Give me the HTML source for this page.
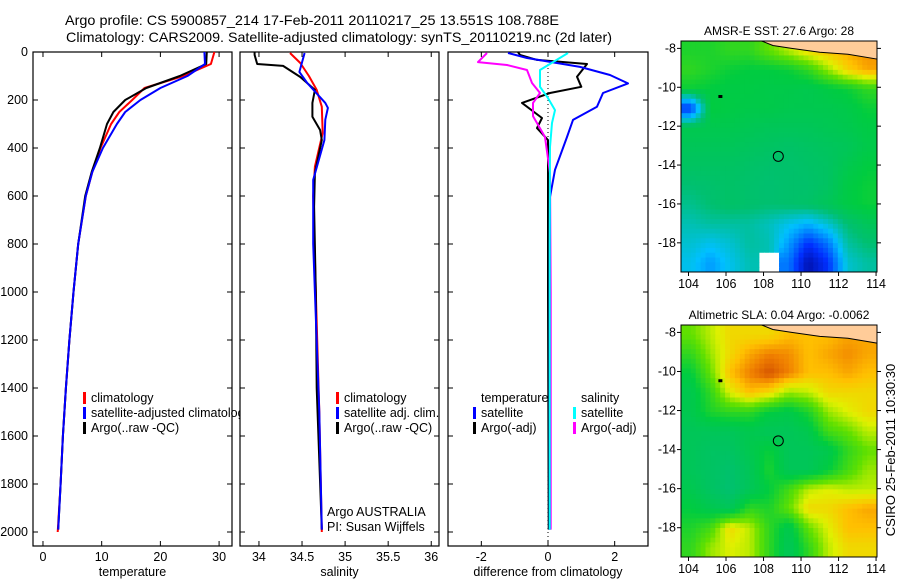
<!DOCTYPE html>
<html><head><meta charset="utf-8">
<style>
html,body{margin:0;padding:0;background:#fff;}
svg{display:block;font-family:"Liberation Sans",sans-serif;}
</style></head>
<body>
<svg id="fig" width="900" height="580" viewBox="0 0 900 580" xmlns="http://www.w3.org/2000/svg">
<text x="312" y="25" font-size="14" text-anchor="middle" textLength="494" lengthAdjust="spacingAndGlyphs">Argo profile: CS 5900857_214 17-Feb-2011 20110217_25 13.551S 108.788E</text>
<text x="339" y="42" font-size="14" text-anchor="middle" textLength="546" lengthAdjust="spacingAndGlyphs">Climatology: CARS2009. Satellite-adjusted climatology: synTS_20110219.nc (2d later)</text>
<text transform="translate(895,450) rotate(-90)" font-size="13" text-anchor="middle">CSIRO 25-Feb-2011 10:30:30</text>
</svg>
<script>
// ---------- data ----------
const depthTicks=[0,200,400,600,800,1000,1200,1400,1600,1800,2000];
const tempTicks=[0,10,20,30];
const salTicks=[34,34.5,35,35.5,36];
const salTickLabels=["34","34.5","35","35.5","36"];
const diffTicks=[-2,0,2];
const diffTickLabels=["-2","0","2"];
const tClimD=[0,50,100,150,200,250,300,400,500,600,800,1000,1200,1400,1600,1800,2000];
const tClimV=[29.2,28.6,23.9,17.3,15.2,13,11.6,9.8,8.4,7.3,6,5.2,4.5,3.9,3.4,3,2.5];
const tSatD=[0,50,100,150,200,250,300,400,500,600,800,1000,1200,1400,1600,1800,1990];
const tSatV=[27.5,27.6,24.6,20,16.6,14,12.6,10.2,8.4,7.3,6,5.2,4.5,3.9,3.4,3,2.6];
const tArgoD=[0,50,100,150,200,250,300,400,500,600,800,1000,1200,1400,1600,1800,1990];
const tArgoV=[27.9,27.8,23.3,17.6,14,12,10.9,9.7,8.3,7.2,6,5.2,4.5,3.9,3.4,3,2.6];
const sClimD=[4,46,100,158,228,337,478,600,1000,1500,2000];
const sClimV=[34.36,34.48,34.58,34.67,34.73,34.74,34.65,34.63,34.66,34.7,34.73];
const sSatD=[4,83,129,212,233,282,367,533,800,1000,1500,1990];
const sSatV=[34.53,34.47,34.56,34.77,34.8,34.77,34.76,34.63,34.63,34.65,34.7,34.73];
const sArgoD=[0,12,50,58,104,158,212,270,325,367,504,645,1000,1400,1990];
const sArgoV=[33.95,33.95,33.98,34.28,34.48,34.65,34.62,34.62,34.71,34.73,34.65,34.64,34.66,34.67,34.73];
const dTSatD=[4,25,62,96,131,171,228,283,354,491,604,1000,1990];
const dTSatV=[-1.2,-0.63,0.96,1.86,2.4,1.65,1.47,0.75,0.57,0.21,0.06,0.05,0.05];
const dTArgoD=[0,12,33,50,103,145,171,212,275,317,367,600,1000,1990];
const dTArgoV=[-0.9,-0.84,-0.33,1.17,0.87,1.0,0.06,-0.78,-0.18,-0.33,0,0,0,0.02];
const dSSatD=[4,42,75,145,192,242,296,396,800,1990];
const dSSatV=[0.6,0.15,-0.24,-0.24,0,0.21,0.12,0.06,0.05,0.05];
const dSArgoD=[4,42,54,75,129,171,212,267,354,504,1000,1990];
const dSArgoV=[-1.83,-2.1,-1.23,-0.63,-0.48,-0.24,-0.45,-0.45,-0.09,0.06,0.08,0.08];
const latTicks=[-8,-10,-12,-14,-16,-18];
const lonTicks=[104,106,108,110,112,114];
const sstGrid=[
[0.68,0.68,0.70,0.70,0.75,0.80,0.85,0.88,0.90,0.92],
[0.70,0.68,0.66,0.65,0.65,0.66,0.70,0.78,0.86,0.90],
[0.66,0.65,0.64,0.64,0.63,0.63,0.62,0.64,0.66,0.70],
[0.20,0.65,0.64,0.63,0.63,0.62,0.62,0.62,0.63,0.66],
[0.62,0.62,0.62,0.61,0.60,0.60,0.60,0.61,0.62,0.64],
[0.60,0.60,0.60,0.59,0.58,0.57,0.58,0.59,0.60,0.63],
[0.58,0.58,0.58,0.57,0.56,0.56,0.57,0.58,0.62,0.65],
[0.55,0.56,0.57,0.56,0.55,0.56,0.56,0.58,0.64,0.66],
[0.52,0.55,0.57,0.56,0.55,0.56,0.57,0.60,0.64,0.66],
[0.48,0.50,0.50,0.50,0.47,0.42,0.38,0.45,0.55,0.60],
[0.45,0.42,0.45,0.50,0.48,0.35,0.20,0.30,0.50,0.55],
[0.42,0.35,0.42,0.48,1.10,0.30,0.08,0.20,0.45,0.50]];
const slaGrid=[
[0.75,0.80,0.85,0.85,0.85,0.88,0.88,0.88,0.90,0.90],
[0.70,0.78,0.85,0.90,0.93,0.92,0.88,0.90,0.92,0.90],
[0.65,0.75,0.88,0.93,0.97,0.93,0.88,0.88,0.90,0.88],
[0.62,0.70,0.82,0.88,0.85,0.78,0.80,0.85,0.85,0.85],
[0.62,0.68,0.70,0.70,0.65,0.63,0.68,0.78,0.82,0.85],
[0.60,0.60,0.60,0.62,0.60,0.60,0.62,0.72,0.75,0.80],
[0.60,0.58,0.58,0.62,0.66,0.60,0.60,0.62,0.70,0.75],
[0.60,0.58,0.56,0.60,0.68,0.60,0.60,0.65,0.72,0.78],
[0.62,0.58,0.55,0.60,0.65,0.72,0.80,0.82,0.80,0.80],
[0.65,0.62,0.60,0.70,0.68,0.75,0.85,0.85,0.88,0.90],
[0.68,0.72,0.85,0.80,0.70,0.62,0.75,0.82,0.88,0.88],
[0.70,0.78,0.82,0.80,0.70,0.60,0.70,0.80,0.85,0.85]];
const argoLon=108.788, argoLat=-13.551;

// ---------- drawing ----------
const NS="http://www.w3.org/2000/svg";
const svg=document.getElementById('fig');
function mk(tag,attrs,parent){const e=document.createElementNS(NS,tag);for(const k in attrs)e.setAttribute(k,attrs[k]);(parent||svg).appendChild(e);return e;}
const Y0=52,YS=0.24;
function yD(d){return Y0+d*YS;}
const PT=52,PB=546;

function panel(name,left,right,x0,x1,ticks,labels,xlabel,showY){
  const g=mk('g',{});
  
  
  const xs=v=>left+(v-x0)/(x1-x0)*(right-left);
  mk('rect',{x:left,y:PT,width:right-left,height:PB-PT,fill:'#fff',stroke:'#000','stroke-width':1.2},g);
  ticks.forEach((t,i)=>{
    const x=xs(t);
    mk('line',{x1:x,y1:PB,x2:x,y2:PB-5,stroke:'#000'},g);
    mk('line',{x1:x,y1:PT,x2:x,y2:PT+5,stroke:'#000'},g);
    const tl=mk('text',{x:x,y:PB+15,'font-size':12.5,'text-anchor':'middle'},g);
    tl.textContent=labels[i];
    
    
  });
  depthTicks.forEach(d=>{
    mk('line',{x1:left,y1:yD(d),x2:left+5,y2:yD(d),stroke:'#000'},g);
    mk('line',{x1:right,y1:yD(d),x2:right-5,y2:yD(d),stroke:'#000'},g);
    if(showY){
      const yl=mk('text',{x:left-5,y:yD(d)+4,'font-size':12.5,'text-anchor':'end'},g);
      yl.textContent=String(d);
      
      
    }
  });
  const xt=mk('text',{x:(left+right)/2,y:PB+30,'font-size':12.5,'text-anchor':'middle'},g);
  xt.textContent=xlabel;
  
  
  return {g,xs};
}
function line(p,D,V,color,name,dash){
  const pts=D.map((d,i)=>p.xs(V[i]).toFixed(1)+','+yD(d).toFixed(1)).join(' ');
  const l=mk('polyline',{points:pts,fill:'none',stroke:color,'stroke-width':2,'stroke-linejoin':'round'},p.g);
  if(dash)l.setAttribute('stroke-dasharray',dash);
  
  
}
function legend(p,x,y,items){
  items.forEach((it,i)=>{
    if(it[1]){mk('rect',{x:x,y:y+i*15-10,width:3,height:12,fill:it[1]},p.g);}
    const t=mk('text',{x:x+(it[1]?8:0),y:y+i*15,'font-size':12.5},p.g);
    t.textContent=it[0];
    
    
  });
}
const pT=panel('temperature-panel',33,232,-1.7,32.2,tempTicks,tempTicks.map(String),'temperature',true);
line(pT,tClimD,tClimV,'#f00','temp-climatology-line');
line(pT,tArgoD,tArgoV,'#000','temp-argo-line');
line(pT,tSatD,tSatV,'#00f','temp-satellite-line');
legend(pT,83,402,[['climatology','#f00'],['satellite-adjusted climatology','#00f'],['Argo(..raw -QC)','#000']]);
const pS=panel('salinity-panel',240,439,33.78,36.09,salTicks,salTickLabels,'salinity',false);
line(pS,sClimD,sClimV,'#f00','sal-climatology-line');
line(pS,sArgoD,sArgoV,'#000','sal-argo-line');
line(pS,sSatD,sSatV,'#00f','sal-satellite-line');
legend(pS,336,402,[['climatology','#f00'],['satellite adj. clim.','#00f'],['Argo(..raw -QC)','#000']]);
legend(pS,327,516,[['Argo AUSTRALIA',null],['PI: Susan Wijffels',null]]);
const pD=panel('difference-panel',448,648,-3.0,3.0,diffTicks,diffTickLabels,'difference from climatology',false);
mk('line',{x1:pD.xs(0),y1:PT,x2:pD.xs(0),y2:PB,stroke:'#000','stroke-dasharray':'1,3'},pD.g);
line(pD,dTArgoD,dTArgoV,'#000','diff-temp-argo-line');
line(pD,dSArgoD,dSArgoV,'#f0f','diff-sal-argo-line');
line(pD,dTSatD,dTSatV,'#00f','diff-temp-satellite-line');
line(pD,dSSatD,dSSatV,'#0ff','diff-sal-satellite-line');
legend(pD,481,402,[['temperature',null]]);
legend(pD,473,417,[['satellite','#00f'],['Argo(-adj)','#000']]);
legend(pD,581,402,[['salinity',null]]);
legend(pD,573,417,[['satellite','#0ff'],['Argo(-adj)','#f0f']]);

const stops=[[0,[0,0,128]],[0.2,[0,48,255]],[0.4,[0,192,255]],[0.55,[0,192,112]],[0.65,[0,204,64]],[0.75,[96,224,0]],[0.82,[224,240,0]],[0.88,[255,192,0]],[0.93,[240,128,0]],[1,[192,48,0]]];
function cmap(v){
  if(v>1.05)return '#fff';
  for(let i=1;i<stops.length;i++){if(v<=stops[i][0]){const a=stops[i-1],b=stops[i],f=(v-a[0])/(b[0]-a[0]);return 'rgb('+a[1].map((c,k)=>Math.round(c+f*(b[1][k]-c))).join(',')+')';}}
  return 'rgb(192,48,0)';
}
function sample(grid,r,c){
  const nr=grid.length,nc=grid[0].length;
  const nv=grid[Math.min(nr-1,Math.floor(r+0.5))][Math.min(nc-1,Math.floor(c+0.5))];
  if(nv>1.05)return nv;
  const r0=Math.max(0,Math.min(nr-1,Math.floor(r))),c0=Math.max(0,Math.min(nc-1,Math.floor(c)));
  const r1=Math.min(nr-1,r0+1),c1=Math.min(nc-1,c0+1);
  const fr=Math.max(0,Math.min(1,r-r0)),fc=Math.max(0,Math.min(1,c-c0));
  const g=(a,b)=>{const v=grid[a][b];return v>1.05?nv:v;};
  return (g(r0,c0)*(1-fc)+g(r0,c1)*fc)*(1-fr)+(g(r1,c0)*(1-fc)+g(r1,c1)*fc)*fr;
}
function map(name,top,bottom,grid,title){
  const L=681,R=877,lon0=103.6,lon1=114.05,lat0=-7.62,lat1=-19.5;
  const g=mk('g',{});
  
  
  const xs=lo=>L+(lo-lon0)/(lon1-lon0)*(R-L);
  const ys=la=>top+(la-lat0)/(lat1-lat0)*(bottom-top);
  const nr=grid.length,nc=grid[0].length,S=4;
  const cw=(R-L)/(nc*S),ch=(bottom-top)/(nr*S);
  for(let r=0;r<nr*S;r++)for(let c=0;c<nc*S;c++){
    const v=sample(grid,(r+0.5)/S-0.5,(c+0.5)/S-0.5);
    const cell=mk('rect',{x:(L+c*cw).toFixed(2),y:(top+r*ch).toFixed(2),width:(cw+0.5).toFixed(2),height:(ch+0.5).toFixed(2),fill:cmap(v)},g);
    
    
  }
  const land=[[107.9,-7.62],[108.5,-7.85],[109.5,-8.0],[111,-8.2],[112.5,-8.3],[114.05,-8.55],[114.05,-7.62]];
  const lp=mk('polygon',{points:land.map(p=>xs(p[0])+','+ys(p[1])).join(' '),fill:'#ffcc99',stroke:'#000','stroke-width':1},g);
  
  
  const c=mk('circle',{cx:xs(argoLon),cy:ys(argoLat),r:5,fill:'none',stroke:'#000'},g);
  
  
  mk('rect',{x:xs(105.7)-2,y:ys(-10.5)-2,width:4,height:3,fill:'#000'},g);
  mk('rect',{x:L,y:top,width:R-L,height:bottom-top,fill:'none',stroke:'#000'},g);
  latTicks.forEach(la=>{
    mk('line',{x1:L,y1:ys(la),x2:L-4,y2:ys(la),stroke:'#000'},g);
    mk('line',{x1:R,y1:ys(la),x2:R+4,y2:ys(la),stroke:'#000'},g);
    const t=mk('text',{x:L-5,y:ys(la)+4,'font-size':12.5,'text-anchor':'end'},g);
    t.textContent=String(la);
    
    
  });
  lonTicks.forEach(lo=>{
    mk('line',{x1:xs(lo),y1:bottom,x2:xs(lo),y2:bottom+4,stroke:'#000'},g);
    const t=mk('text',{x:xs(lo),y:bottom+16,'font-size':12.5,'text-anchor':'middle'},g);
    t.textContent=String(lo);
    
    
  });
  const tt=mk('text',{x:(L+R)/2,y:top-6,'font-size':12,'text-anchor':'middle'},g);
  tt.textContent=title;
  
  
}
map('sst-map',41,272,sstGrid,'AMSR-E SST: 27.6  Argo: 28');
map('sla-map',325,557,slaGrid,'Altimetric SLA: 0.04  Argo: -0.0062');
</script>
</body></html>
